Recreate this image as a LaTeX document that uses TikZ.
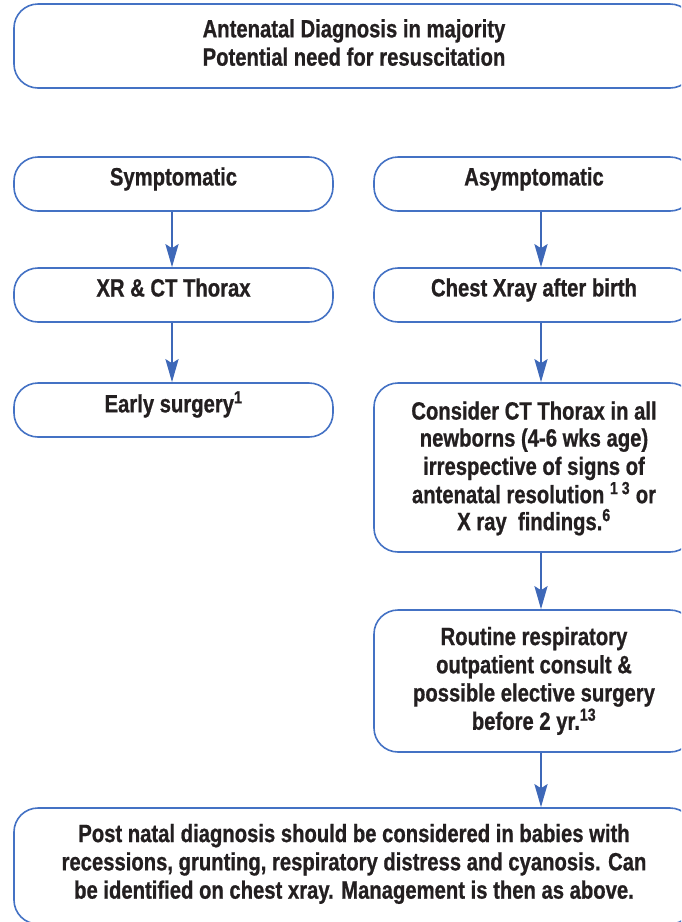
\documentclass[tikz,border=0pt]{standalone}
\usepackage{fontspec}
\newfontfamily\cf{Liberation Sans}[FakeStretch=0.81, FakeBold=0.8]
\usetikzlibrary{arrows.meta}
\definecolor{bord}{RGB}{68,114,196}
\definecolor{arrc}{RGB}{62,104,184}
\definecolor{ink}{RGB}{35,31,32}
\newcommand\lst{\rule[-5pt]{0pt}{27pt}}
\tikzset{
  box/.style={draw=bord, line width=1.6pt, rounded corners=24pt, rectangle, inner sep=0pt},
  txt/.style={align=center, inner sep=0pt, text=ink, font=\cf\bfseries\fontsize{25}{27}\selectfont},
  arr/.style={draw=arrc, line width=2.6pt, -{Stealth[length=23pt, width=13pt, inset=4pt]}}
}
\begin{document}
\begin{tikzpicture}[x=1pt, y=-1pt]
\useasboundingbox (0,0) rectangle (681,922);
\clip (0,0) rectangle (681,922);
% boxes
\node[box, minimum width=680pt, minimum height=84pt] (top) at (354,46) {};
\node[box, minimum width=319pt, minimum height=54pt] (sym) at (173.5,184) {};
\node[box, minimum width=320pt, minimum height=54pt] (asym) at (534,184) {};
\node[box, minimum width=319pt, minimum height=54pt] (xr) at (173.5,295) {};
\node[box, minimum width=320pt, minimum height=54pt] (chest) at (534,295) {};
\node[box, minimum width=319pt, minimum height=54pt] (early) at (173.5,410) {};
\node[box, minimum width=320pt, minimum height=169pt] (ct) at (534,467.5) {};
\node[box, minimum width=320pt, minimum height=142pt] (routine) at (534,681) {};
\node[box, minimum width=680pt, minimum height=116pt] (post) at (354,866) {};
% texts
\node[txt] (topT) at ([yshift=3pt]top.center) {Antenatal Diagnosis in majority\lst\\Potential need for resuscitation\lst};
\node[txt] (symT) at ([yshift=7pt]sym.center) {Symptomatic\lst};
\node[txt] (asymT) at ([yshift=7pt]asym.center) {Asymptomatic\lst};
\node[txt] (xrT) at ([yshift=7pt]xr.center) {XR \& CT Thorax\lst};
\node[txt] (chestT) at ([yshift=7pt]chest.center) {Chest Xray after birth\lst};
\node[txt] (earlyT) at ([yshift=6pt]early.center) {Early surgery\textsuperscript{1}\lst};
\node[txt] (ctT) at ([yshift=1pt]ct.center) {Consider CT Thorax in all\lst\\newborns (4-6 wks age)\lst\\irrespective of signs of\lst\\antenatal resolution \textsuperscript{1 3} or\lst\\X ray\ \ findings.\textsuperscript{6}\lst};
\node[txt] (routineT) at ([yshift=2pt]routine.center) {Routine respiratory\lst\\outpatient consult \&\lst\\possible elective surgery\lst\\before 2 yr.\textsuperscript{13}\lst};
\node[txt] (postT) at ([yshift=4pt]post.center) {Post natal diagnosis should be considered in babies with\lst\\recessions, grunting, respiratory distress and cyanosis. Can\lst\\be identified on chest xray. Management is then as above.\lst};
% connectors
\coordinate (lc) at (172,0);
\coordinate (rc) at (541,0);
\draw[arr] (sym.south -| lc) -- (xr.north -| lc);
\draw[arr] (xr.south -| lc) -- (early.north -| lc);
\draw[arr] (asym.south -| rc) -- (chest.north -| rc);
\draw[arr] (chest.south -| rc) -- (ct.north -| rc);
\draw[arr] (ct.south -| rc) -- (routine.north -| rc);
\draw[arr] (routine.south -| rc) -- (post.north -| rc);
\end{tikzpicture}
\end{document}
